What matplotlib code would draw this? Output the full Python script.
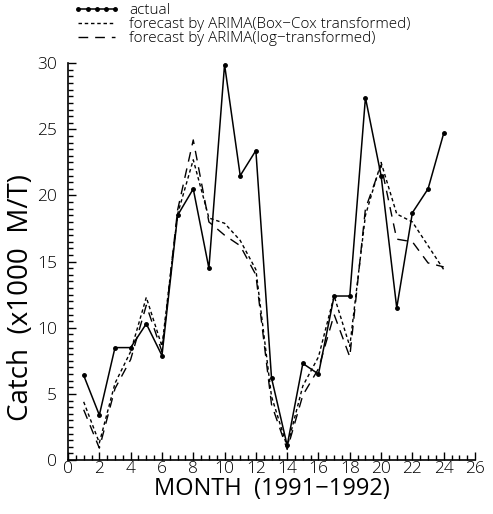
import matplotlib
matplotlib.use("Agg")
import matplotlib.pyplot as plt
from matplotlib.ticker import MultipleLocator

months = list(range(1, 25))
actual = [6.4, 3.4, 8.5, 8.5, 10.3, 7.9, 18.5, 20.5, 14.5, 29.9, 21.5, 23.4,
          6.2, 1.1, 7.3, 6.5, 12.4, 12.4, 27.4, 21.5, 11.5, 18.7, 20.5, 24.7]
boxcox = [4.4, 1.3, 5.8, 8.2, 12.3, 8.6, 18.6, 22.7, 18.3, 17.9, 16.6, 14.4,
          4.8, 1.0, 5.6, 7.8, 12.4, 8.6, 18.5, 22.5, 18.6, 18.0, 16.2, 14.4]
logtr = [3.8, 0.9, 5.4, 7.6, 11.7, 8.2, 18.9, 24.2, 18.0, 17.0, 16.2, 14.0,
         4.2, 0.8, 4.9, 6.9, 11.0, 7.8, 19.0, 22.3, 16.7, 16.5, 14.9, 14.6]

labels = ["actual",
          "forecast by ARIMA(Box\u2212Cox transformed)",
          "forecast by ARIMA(log\u2212transformed)"]
xlabel = "MONTH  (1991\u22121992)"
ylabel = "Catch  (x1000  M/T)"

plt.rcParams["font.family"] = ["Open Sans", "DejaVu Sans"]
plt.rcParams["font.weight"] = "light"

fig = plt.figure(figsize=(4.93, 5.14), dpi=100)
ax = fig.add_axes([0.138, 0.105, 0.8255, 0.772])

l1, = ax.plot(months, actual, color="black", lw=1.1, marker="o", ms=2.5,
              label=labels[0])
l2, = ax.plot(months, boxcox, color="black", lw=1.0, dashes=(2.5, 2),
              label=labels[1])
l3, = ax.plot(months, logtr, color="black", lw=1.0, dashes=(7, 5),
              label=labels[2])

ax.set_xlim(0, 26)
ax.set_ylim(0, 30)
ax.xaxis.set_major_locator(MultipleLocator(2))
ax.xaxis.set_minor_locator(MultipleLocator(0.5))
ax.yaxis.set_major_locator(MultipleLocator(5))
ax.yaxis.set_minor_locator(MultipleLocator(0.5))
ax.tick_params(which="both", direction="in", width=1, color="black")
ax.tick_params(which="major", length=6, labelsize=12.5)
ax.tick_params(axis="x", which="major", pad=1)
ax.tick_params(axis="y", which="major", pad=8)
ax.tick_params(which="minor", length=3.5)
for side in ("top", "right"):
    ax.spines[side].set_visible(False)
for side in ("left", "bottom"):
    ax.spines[side].set_linewidth(1.2)

ax.set_xlabel(xlabel, fontsize=17, labelpad=0)
ax.set_ylabel(ylabel, fontsize=20)
ax.yaxis.set_label_coords(-0.08, 0.41)

fig.legend(handles=[l1, l2, l3], loc="upper left",
           bbox_to_anchor=(0.128, 1.014), frameon=False, fontsize=11,
           handlelength=3.0, handletextpad=0.6, labelspacing=-0.08,
           numpoints=5, borderpad=0.2)

fig.savefig("out.png", dpi=100, facecolor="white")
